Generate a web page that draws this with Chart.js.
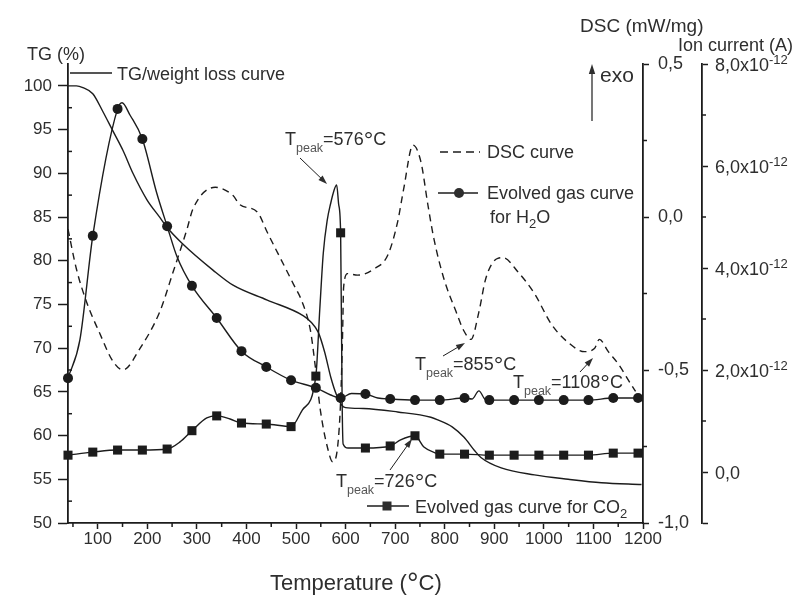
<!DOCTYPE html>
<html>
<head>
<meta charset="utf-8">
<script src="https://cdn.jsdelivr.net/npm/chart.js@4.4.0/dist/chart.umd.min.js"></script>
<style>html,body{margin:0;padding:0;background:#fff;}canvas{display:block;}</style>
</head>
<body>
<canvas id="c" width="797" height="611"></canvas>
<script>
const FONT = '"Liberation Sans", Arial, Helvetica, sans-serif';
const INK = '#1c1c1c';
const TXT = '#2e2e2e';

// ---- TG / weight loss curve (%)
const tgTemp  = [40, 57, 70, 90, 110, 130, 151, 171, 199, 226, 240, 270, 333, 373, 442, 515, 530, 545, 558, 570, 582, 592, 600, 636, 705, 772, 786, 815, 839, 860, 873, 914, 981, 1049, 1116, 1197];
const tgValue = [100, 100, 99.8, 99.1, 97.1, 94.9, 92.6, 90.0, 87.0, 84.9, 83.8, 82.0, 78.9, 77.2, 75.5, 73.7, 73.0, 71.8, 69.5, 66.7, 64.6, 63.5, 63.2, 63.1, 62.7, 62.1, 61.8, 61.0, 59.8, 58.3, 57.5, 56.3, 55.5, 55.0, 54.6, 54.4];

// ---- DSC curve (mW/mg)
const dscTemp  = [40, 57, 78, 104, 130, 151, 185, 225, 252, 280, 292, 337, 373, 387, 422, 442, 495, 513, 529, 539, 549, 563, 574, 584, 590, 594, 596, 604, 624, 657, 685, 705, 717, 736, 752, 766, 778, 798, 823, 838, 853, 869, 883, 907, 918, 948, 981, 1015, 1049, 1082, 1102, 1112, 1130, 1150, 1177, 1185];
const dscValue = [-0.04, -0.17, -0.28, -0.38, -0.47, -0.50, -0.43, -0.31, -0.18, -0.04, 0.026, 0.097, 0.07, 0.04, 0.016, -0.05, -0.22, -0.28, -0.37, -0.49, -0.63, -0.75, -0.80, -0.75, -0.60, -0.38, -0.23, -0.185, -0.19, -0.17, -0.125, -0.016, 0.09, 0.235, 0.18, 0.04, -0.07, -0.20, -0.31, -0.37, -0.40, -0.31, -0.20, -0.135, -0.133, -0.18, -0.25, -0.35, -0.41, -0.44, -0.43, -0.40, -0.44, -0.48, -0.55, -0.57];

// ---- Evolved gas H2O, ion current (x10^-12 A)
const h2oMarkTemp  = [40, 90, 140, 190, 240, 290, 340, 390, 440, 490, 540, 590, 640, 690, 740, 790, 840, 890, 940, 990, 1040, 1090, 1140, 1190];
const h2oMarkIon   = [1.84, 4.63, 7.12, 6.53, 4.82, 3.65, 3.02, 2.37, 2.06, 1.80, 1.65, 1.45, 1.53, 1.43, 1.41, 1.41, 1.45, 1.41, 1.41, 1.41, 1.41, 1.41, 1.45, 1.45];
const h2oExtraTemp = [64, 149, 165, 219, 260, 570, 612, 665, 855, 869, 882];
const h2oExtraIon  = [2.59, 7.24, 7.0, 5.47, 4.22, 1.51, 1.54, 1.45, 1.43, 1.59, 1.42];

// ---- Evolved gas CO2, ion current (x10^-12 A)
const co2MarkTemp  = [40, 90, 140, 190, 240, 290, 340, 390, 440, 490, 540, 590, 640, 690, 740, 790, 840, 890, 940, 990, 1040, 1090, 1140, 1190];
const co2MarkIon   = [0.33, 0.39, 0.43, 0.43, 0.45, 0.81, 1.10, 0.96, 0.94, 0.89, 1.88, 4.69, 0.47, 0.51, 0.71, 0.35, 0.35, 0.33, 0.33, 0.33, 0.33, 0.33, 0.37, 0.37];
const co2ExtraTemp = [266, 320, 367, 513, 548, 555, 563, 570, 576, 582, 586, 593, 595, 605, 711, 758, 782];
const co2ExtraIon  = [0.59, 1.06, 1.04, 1.22, 3.2, 4.29, 4.94, 5.27, 5.5, 5.63, 5.25, 1.4, 0.55, 0.47, 0.63, 0.49, 0.37];

// ---- ticks
const xMajorTicks   = [100, 200, 300, 400, 500, 600, 700, 800, 900, 1000, 1100, 1200];
const xMinorTicks   = [50, 150, 250, 350, 450, 550, 650, 750, 850, 950, 1050, 1150];
const tgMajorTicks  = [50, 55, 60, 65, 70, 75, 80, 85, 90, 95, 100];
const tgMinorTicks  = [52.5, 57.5, 62.5, 67.5, 72.5, 77.5, 82.5, 87.5, 92.5, 97.5];
const dscMajorTicks = [-1, -0.5, 0, 0.5];
const dscMinorTicks = [-0.75, -0.25, 0.25];
const ionMajorTicks = [-1, 0, 2, 4, 6, 8];
const ionLabelTicks = [0, 2, 4, 6, 8];
const ionMinorTicks = [1, 3, 5, 7];

function pts(t, v) { return t.map((x, i) => ({ x: x, y: v[i] })); }
function merged(t1, v1, t2, v2) { return pts(t1, v1).concat(pts(t2, v2)).sort((a, b) => a.x - b.x); }
function fixTicks(arr) { return s => { s.ticks = arr.map(v => ({ value: v })); }; }
const comma = v => Number(v).toFixed(1).replace('.', ',');

function rich(ctx, x, y, parts) {
  let cx = x;
  parts.forEach(p => {
    ctx.font = (p.size || 18) + 'px ' + FONT;
    ctx.fillStyle = p.color || TXT;
    ctx.fillText(p.t, cx, y + (p.dy || 0));
    cx += ctx.measureText(p.t).width;
  });
  return cx;
}
function arrow(ctx, x1, y1, x2, y2, len, w) {
  const a = Math.atan2(y2 - y1, x2 - x1);
  ctx.beginPath(); ctx.moveTo(x1, y1);
  ctx.lineTo(x2 - Math.cos(a) * len * 0.8, y2 - Math.sin(a) * len * 0.8); ctx.stroke();
  ctx.beginPath();
  ctx.moveTo(x2, y2);
  ctx.lineTo(x2 - Math.cos(a) * len - Math.sin(a) * w, y2 - Math.sin(a) * len + Math.cos(a) * w);
  ctx.lineTo(x2 - Math.cos(a) * len + Math.sin(a) * w, y2 - Math.sin(a) * len - Math.cos(a) * w);
  ctx.closePath(); ctx.fill();
}
function peakLabel(ctx, x, y, val) {
  rich(ctx, x, y, [
    { t: 'T', size: 18 },
    { t: 'peak', size: 12.5, dy: 7, color: '#555' },
    { t: '=' + val, size: 18 },
    { t: '\u00B0', size: 24, dy: 3 },
    { t: 'C', size: 18 }
  ]);
}

const decor = {
  id: 'decor',
  beforeDraw(chart) {
    const c = chart.ctx; c.save(); c.fillStyle = '#ffffff'; c.fillRect(0, 0, chart.width, chart.height); c.restore();
  },
  afterDraw(chart) {
    const ctx = chart.ctx;
    const { x, yTG, yDSC, yIon } = chart.scales;
    ctx.save();
    ctx.strokeStyle = INK; ctx.fillStyle = INK; ctx.lineWidth = 1.5;
    const seg = (a, b, c2, d) => { ctx.beginPath(); ctx.moveTo(a, b); ctx.lineTo(c2, d); ctx.stroke(); };
    // minor ticks
    xMinorTicks.forEach(v => { const p = x.getPixelForValue(v); seg(p, x.top, p, x.top + 4); });
    tgMinorTicks.forEach(v => { const p = yTG.getPixelForValue(v); seg(yTG.right, p, yTG.right + 4, p); });
    dscMinorTicks.forEach(v => { const p = yDSC.getPixelForValue(v); seg(yDSC.left, p, yDSC.left + 4, p); });
    ionMinorTicks.forEach(v => { const p = yIon.getPixelForValue(v); seg(yIon.left, p, yIon.left + 4, p); });

    ctx.textAlign = 'left'; ctx.textBaseline = 'alphabetic';
    // ion current tick labels
    ionLabelTicks.forEach(v => {
      const p = yIon.getPixelForValue(v) + 6.5;
      if (v === 0) rich(ctx, yIon.left + 13, p, [{ t: '0,0', size: 18 }]);
      else rich(ctx, yIon.left + 13, p, [{ t: comma(v) + 'x10', size: 18 }, { t: '-12', size: 13, dy: -7 }]);
    });
    // axis titles
    rich(ctx, 27, 60, [{ t: 'TG (%)', size: 18 }]);
    rich(ctx, 580, 32, [{ t: 'DSC (mW/mg)', size: 19 }]);
    rich(ctx, 678, 51, [{ t: 'Ion current (A)', size: 18 }]);
    rich(ctx, 270, 590, [{ t: 'Temperature (', size: 22 }, { t: '\u00B0', size: 29, dy: 3 }, { t: 'C)', size: 22 }]);
    // exo arrow
    rich(ctx, 600, 82, [{ t: 'exo', size: 21 }]);
    ctx.lineWidth = 1.2;
    arrow(ctx, 592, 121, 592, 64, 10, 3.2);

    // legends
    ctx.lineWidth = 1.4;
    seg(70, 73, 112, 73);
    rich(ctx, 117, 80, [{ t: 'TG/weight loss curve', size: 18 }]);
    ctx.setLineDash([8, 5]); seg(440, 152, 480, 152); ctx.setLineDash([]);
    rich(ctx, 487, 158, [{ t: 'DSC curve', size: 18 }]);
    seg(438, 193, 478, 193);
    ctx.beginPath(); ctx.arc(459, 193, 5, 0, Math.PI * 2); ctx.fill();
    rich(ctx, 487, 199, [{ t: 'Evolved gas curve', size: 18 }]);
    rich(ctx, 490, 223, [{ t: 'for H', size: 18 }, { t: '2', size: 13, dy: 5 }, { t: 'O', size: 18 }]);
    seg(367, 506, 409, 506);
    ctx.fillRect(382.5, 501.5, 9, 9);
    rich(ctx, 415, 513, [{ t: 'Evolved gas curve for CO', size: 18 }, { t: '2', size: 13, dy: 5 }]);

    // peak annotations
    ctx.lineWidth = 1;
    peakLabel(ctx, 285, 145, '576');
    arrow(ctx, 300, 158, 327, 184, 9, 3);
    peakLabel(ctx, 336, 487, '726');
    arrow(ctx, 390, 470, 412, 439, 9, 3);
    peakLabel(ctx, 415, 370, '855');
    arrow(ctx, 443, 356, 465, 343, 9, 3);
    peakLabel(ctx, 513, 388, '1108');
    arrow(ctx, 580, 372, 593, 358, 9, 3);
    ctx.restore();
  }
};

const lineBase = { borderColor: INK, borderWidth: 1.4, pointRadius: 0, fill: false, cubicInterpolationMode: 'monotone' };
const tickFont = { family: FONT, size: 17 };
const axisBorder = { display: true, color: INK, width: 1.8 };

new Chart(document.getElementById('c'), {
  type: 'line',
  data: {
    datasets: [
      Object.assign({ label: 'TG/weight loss curve', data: pts(tgTemp, tgValue), yAxisID: 'yTG' }, lineBase),
      Object.assign({ label: 'DSC curve', data: pts(dscTemp, dscValue), yAxisID: 'yDSC', borderDash: [7, 5] }, lineBase),
      Object.assign({ label: 'H2O line', data: merged(h2oMarkTemp, h2oMarkIon, h2oExtraTemp, h2oExtraIon), yAxisID: 'yIon' }, lineBase),
      { label: 'Evolved gas curve for H2O', data: pts(h2oMarkTemp, h2oMarkIon), yAxisID: 'yIon', showLine: false,
        pointStyle: 'circle', pointRadius: 5, pointBackgroundColor: INK, pointBorderColor: INK, pointBorderWidth: 0, clip: false },
      Object.assign({ label: 'CO2 line', data: merged(co2MarkTemp, co2MarkIon, co2ExtraTemp, co2ExtraIon), yAxisID: 'yIon' }, lineBase),
      { label: 'Evolved gas curve for CO2', data: pts(co2MarkTemp, co2MarkIon), yAxisID: 'yIon', showLine: false,
        pointStyle: 'rect', pointRadius: 6.4, pointBackgroundColor: INK, pointBorderColor: INK, pointBorderWidth: 0, clip: false }
    ]
  },
  options: {
    responsive: false,
    animation: false,
    devicePixelRatio: 1,
    layout: { padding: { top: 64, left: 0, right: 0, bottom: 0 } },
    plugins: { legend: { display: false }, tooltip: { enabled: false } },
    scales: {
      x: {
        type: 'linear', position: 'bottom', min: 40, max: 1200,
        afterBuildTicks: fixTicks(xMajorTicks),
        afterFit: s => { s.height = 88; },
        ticks: { callback: v => String(v), font: tickFont, color: TXT, padding: 0, maxRotation: 0, autoSkip: false },
        grid: { drawOnChartArea: false, drawTicks: true, tickLength: 6, tickColor: INK, tickWidth: 1.5 },
        border: axisBorder
      },
      yTG: {
        type: 'linear', position: 'left', min: 50, max: 102.5,
        afterBuildTicks: fixTicks(tgMajorTicks),
        afterFit: s => { s.width = 68; },
        ticks: { callback: v => String(v), font: tickFont, color: TXT, padding: 6, autoSkip: false },
        grid: { drawOnChartArea: false, drawTicks: true, tickLength: 10, tickColor: INK, tickWidth: 1.5 },
        border: axisBorder
      },
      yDSC: {
        type: 'linear', position: 'right', min: -1, max: 0.5, weight: 0,
        afterBuildTicks: fixTicks(dscMajorTicks),
        afterFit: s => { s.width = 59; },
        ticks: { callback: v => comma(v), font: { family: FONT, size: 18 }, color: TXT, padding: 9, autoSkip: false },
        grid: { drawOnChartArea: false, drawTicks: true, tickLength: 6, tickColor: INK, tickWidth: 1.5 },
        border: axisBorder
      },
      yIon: {
        type: 'linear', position: 'right', min: -1, max: 8, weight: 1,
        afterBuildTicks: fixTicks(ionMajorTicks),
        afterFit: s => { s.width = 95; },
        ticks: { display: false },
        grid: { drawOnChartArea: false, drawTicks: true, tickLength: 6, tickColor: INK, tickWidth: 1.5 },
        border: axisBorder
      }
    }
  },
  plugins: [decor]
});
</script>
</body>
</html>
